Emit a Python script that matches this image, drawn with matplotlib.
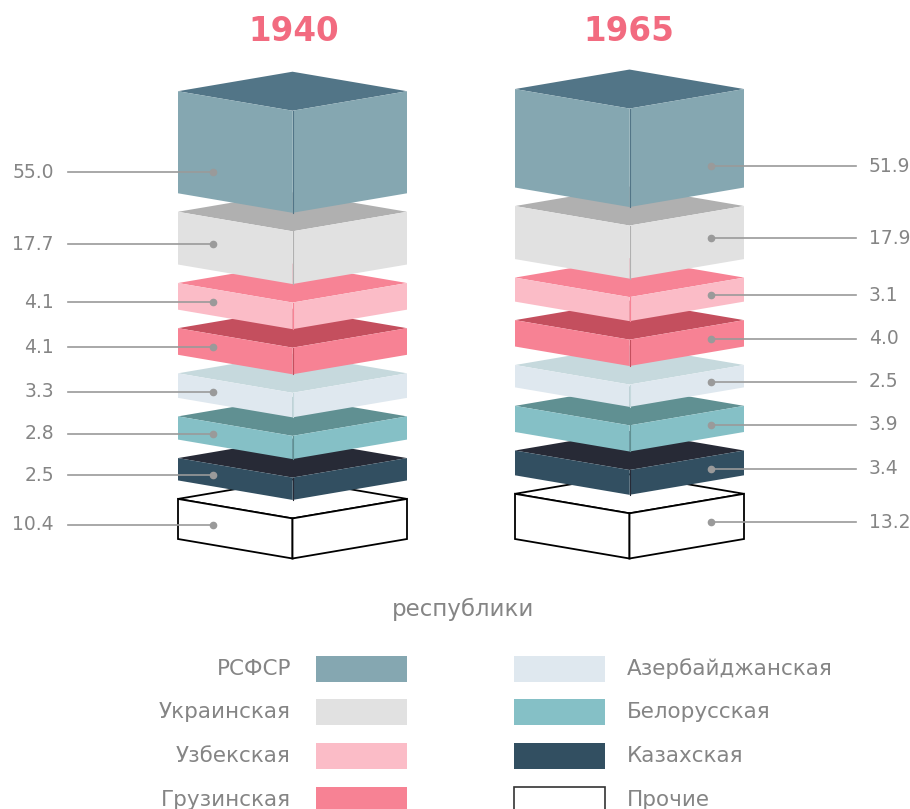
import matplotlib.pyplot as plt
from matplotlib.patches import Polygon, Rectangle

# доли республик (%)
republics = ['РСФСР', 'Украинская', 'Узбекская', 'Грузинская',
             'Азербайджанская', 'Белорусская', 'Казахская', 'Прочие']
years = ['1940', '1965']
vals_1940 = [55.0, 17.7, 4.1, 4.1, 3.3, 2.8, 2.5, 10.4]
vals_1965 = [51.9, 17.9, 3.1, 4.0, 2.5, 3.9, 3.4, 13.2]

side_colors = ['#85a7b1', '#e1e1e1', '#fbbcc7', '#f78294',
               '#dfe8ef', '#85c0c6', '#324f61', '#ffffff']
top_colors = ['#527587', '#b0b0b0', '#f78395', '#c44f5e',
              '#c6d9dd', '#609092', '#272a36', '#ffffff']

title_col = '#f26b80'
txt_col = '#858585'
line_col = '#9a9a9a'

fig = plt.figure(figsize=(9.1, 8.09), dpi=100)
ax = fig.add_axes([0, 0, 1, 1])
ax.set_xlim(0, 910)
ax.set_ylim(809, 0)
ax.axis('off')

half_w = 114.5
dy = 19.5
slope = dy / half_w
gap = 18.5
bottom_y = 539


def box_height(v):
    return 12 + 5.45 * v ** 0.7


def draw_stack(cx, vals, side):
    L, R = cx - half_w, cx + half_w
    y = bottom_y
    z = 1
    # снизу вверх, чтобы верхние блоки перекрывали нижние
    for i in range(len(vals) - 1, -1, -1):
        h = box_height(vals[i])
        yb = y
        yt = y - h
        others = republics[i] == 'Прочие'
        ec = 'black' if others else 'none'
        lw = 1.3 if others else 0
        top = Polygon([(L, yt), (cx, yt - dy), (R, yt), (cx, yt + dy)],
                      closed=True, fc=top_colors[i], ec=ec, lw=lw, zorder=z)
        left = Polygon([(L, yt), (cx, yt + dy), (cx, yb + dy), (L, yb)],
                       closed=True, fc=side_colors[i], ec=ec, lw=lw, zorder=z)
        right = Polygon([(cx, yt + dy), (R, yt), (R, yb), (cx, yb + dy)],
                        closed=True, fc=side_colors[i], ec=ec, lw=lw, zorder=z)
        ax.add_patch(top)
        ax.add_patch(left)
        ax.add_patch(right)
        if not others:
            ax.plot([cx, cx], [yt + dy, yb + dy], color=top_colors[i], lw=0.8, zorder=z)

        # подпись значения
        if side == 'left':
            dx = 213
            face_bot = yb + (dx - L) * slope
            ly = face_bot - min(h / 2, 27)
            ax.plot([68, dx], [ly, ly], color=line_col, lw=1.2, zorder=20)
            ax.text(54, ly, f'{vals[i]:.1f}', ha='right', va='center',
                    fontsize=13.5, color=txt_col)
        else:
            dx = 711
            face_bot = yb + (R - dx) * slope
            ly = face_bot - min(h / 2, 27)
            ax.plot([dx, 856], [ly, ly], color=line_col, lw=1.2, zorder=20)
            ax.text(869, ly, f'{vals[i]:.1f}', ha='left', va='center',
                    fontsize=13.5, color=txt_col)
        ax.plot(dx, ly, 'o', ms=4.5, color=line_col, zorder=21)

        y = yt - gap
        z += 1


draw_stack(292.5, vals_1940, 'left')
draw_stack(629.5, vals_1965, 'right')

ax.text(294, 31, years[0], ha='center', va='center', fontsize=23.5,
        fontweight='bold', color=title_col)
ax.text(629, 31, years[1], ha='center', va='center', fontsize=23.5,
        fontweight='bold', color=title_col)

ax.text(463, 609, 'республики', ha='center', va='center', fontsize=16.5,
        color=txt_col)

# легенда
row_y = [669, 712, 756, 800]
for k in range(4):
    ax.add_patch(Rectangle((316, row_y[k] - 13), 91, 26, fc=side_colors[k],
                           ec='none'))
    ax.text(291, row_y[k], republics[k], ha='right', va='center',
            fontsize=15.5, color=txt_col)
for k in range(4):
    j = k + 4
    others = republics[j] == 'Прочие'
    ax.add_patch(Rectangle((514, row_y[k] - 13), 91, 26, fc=side_colors[j],
                           ec='#333333' if others else 'none',
                           lw=1.2 if others else 0))
    ax.text(627, row_y[k], republics[j], ha='left', va='center',
            fontsize=15.5, color=txt_col)

fig.savefig('out.png', dpi=100)
